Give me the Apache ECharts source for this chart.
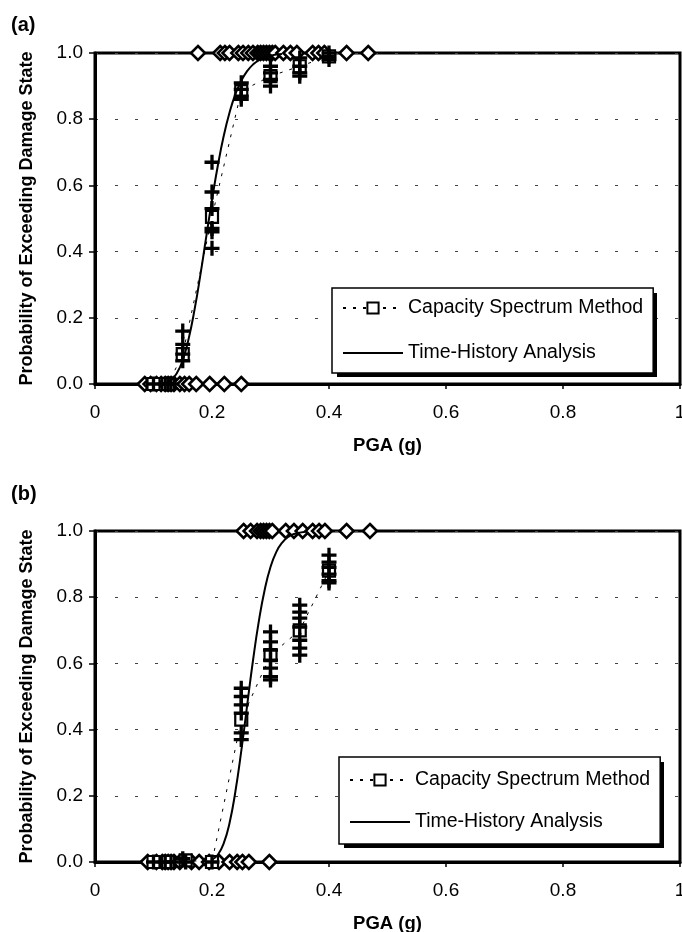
<!DOCTYPE html>
<html>
<head>
<meta charset="utf-8">
<script src="https://cdn.jsdelivr.net/npm/echarts@6/dist/echarts.min.js"></script>
<style>
  html, body { margin: 0; padding: 0; background: #fff; }
  #chart { width: 682px; height: 932px; }
</style>
</head>
<body>
<div id="chart"></div>
<script>
// ---- panel (a) ----
const csmPgaA = [0.1, 0.125, 0.15, 0.2, 0.25, 0.3, 0.35, 0.4];
const csmProbA = [0, 0, 0.09, 0.505, 0.885, 0.93, 0.96, 0.99];
const crossPgaA = [0.1, 0.12, 0.125, 0.13, 0.15, 0.15, 0.15, 0.15, 0.2, 0.2, 0.2, 0.2, 0.2, 0.2,
  0.25, 0.25, 0.25, 0.25, 0.3, 0.3, 0.3, 0.3, 0.35, 0.35, 0.35, 0.35, 0.4, 0.4, 0.4];
const crossProbA = [0, 0, 0, 0, 0.16, 0.12, 0.09, 0.07, 0.67, 0.58, 0.53, 0.47, 0.46, 0.41,
  0.91, 0.89, 0.87, 0.86, 0.96, 0.94, 0.92, 0.9, 0.985, 0.96, 0.94, 0.93, 1.0, 0.99, 0.98];
const hitPgaA = [0.176, 0.214, 0.222, 0.23, 0.245, 0.253, 0.262, 0.27, 0.278, 0.283, 0.288, 0.293,
  0.298, 0.303, 0.308, 0.322, 0.334, 0.345, 0.372, 0.382, 0.392, 0.43, 0.467];
const missPgaA = [0.085, 0.095, 0.105, 0.113, 0.12, 0.125, 0.13, 0.135, 0.145, 0.153, 0.161, 0.173,
  0.196, 0.221, 0.25];
const curvePgaA = [0.12, 0.13, 0.14, 0.15, 0.16, 0.17, 0.18, 0.19, 0.2, 0.21, 0.22, 0.23, 0.24,
  0.25, 0.26, 0.27, 0.28, 0.3, 0.32];
const curveProbA = [0.004, 0.012, 0.033, 0.072, 0.136, 0.223, 0.328, 0.443, 0.556, 0.66, 0.749,
  0.82, 0.876, 0.916, 0.945, 0.965, 0.978, 0.992, 0.997];

// ---- panel (b) ----
const csmPgaB = [0.1, 0.125, 0.155, 0.2, 0.25, 0.3, 0.35, 0.4];
const csmProbB = [0, 0, 0.005, 0, 0.43, 0.625, 0.7, 0.88];
const crossPgaB = [0.1, 0.12, 0.13, 0.15, 0.155, 0.2,
  0.25, 0.25, 0.25, 0.25, 0.25, 0.25,
  0.3, 0.3, 0.3, 0.3, 0.3, 0.3, 0.3,
  0.35, 0.35, 0.35, 0.35, 0.35, 0.35, 0.35,
  0.4, 0.4, 0.4, 0.4, 0.4, 0.4];
const crossProbB = [0, 0, 0, 0.01, 0, 0,
  0.525, 0.5, 0.475, 0.45, 0.39, 0.37,
  0.695, 0.665, 0.64, 0.61, 0.586, 0.56, 0.55,
  0.776, 0.755, 0.737, 0.71, 0.67, 0.646, 0.625,
  0.927, 0.906, 0.89, 0.87, 0.85, 0.843];
const hitPgaB = [0.254, 0.266, 0.277, 0.283, 0.288, 0.293, 0.298, 0.303, 0.326, 0.34, 0.355,
  0.372, 0.383, 0.393, 0.43, 0.47];
const missPgaB = [0.09, 0.105, 0.115, 0.12, 0.125, 0.13, 0.135, 0.145, 0.165, 0.178, 0.195,
  0.212, 0.23, 0.243, 0.252, 0.263, 0.298];
const curvePgaB = [0.2, 0.21, 0.22, 0.23, 0.24, 0.25, 0.26, 0.27, 0.28, 0.29, 0.3, 0.31, 0.32,
  0.33, 0.34, 0.36];
const curveProbB = [0.007, 0.022, 0.056, 0.118, 0.213, 0.335, 0.472, 0.608, 0.727, 0.822, 0.891,
  0.937, 0.965, 0.982, 0.991, 0.998];

const xTicks = ['0', '0.2', '0.4', '0.6', '0.8', '1'];
const yTicks = ['0.0', '0.2', '0.4', '0.6', '0.8', '1.0'];

const FONT = "'Liberation Sans', Arial, sans-serif";
const CROSS = 'path://M3.9,0H6.1V3.9H10V6.1H6.1V10H3.9V6.1H0V3.9H3.9Z';
const SOLID_ICON = 'path://M0,0H60V2H0Z';
const pair = (xs, ys) => xs.map((x, i) => [x, ys[i]]);

const chart = echarts.init(document.getElementById('chart'), null, { renderer: 'canvas' });

function xAxisFor(idx) {
  return {
    type: 'value', gridIndex: idx, min: 0, max: 1, interval: 0.2,
    name: 'PGA (g)', nameLocation: 'middle', nameGap: 52,
    nameTextStyle: { fontFamily: FONT, fontSize: 18.5, fontWeight: 'bold', color: '#000' },
    axisLine: { lineStyle: { color: '#000', width: 3 } },
    axisTick: { length: 5, lineStyle: { color: '#000', width: 1.5 } },
    axisLabel: {
      margin: 19, fontFamily: FONT, fontSize: 19, color: '#000',
      formatter: v => xTicks[Math.round(v / 0.2)]
    },
    splitLine: { show: false }
  };
}

function yAxisFor(idx) {
  return {
    type: 'value', gridIndex: idx, min: 0, max: 1, interval: 0.2,
    name: 'Probability of Exceeding Damage State', nameLocation: 'middle', nameGap: 59,
    nameTextStyle: { fontFamily: FONT, fontSize: 18, fontWeight: 'bold', color: '#000' },
    axisLine: { lineStyle: { color: '#000', width: 3 } },
    axisTick: { length: 6, lineStyle: { color: '#000', width: 1.5 } },
    axisLabel: {
      margin: 12, fontFamily: FONT, fontSize: 19, color: '#000',
      formatter: v => yTicks[Math.round(v / 0.2)]
    },
    splitLine: { lineStyle: { color: '#444', width: 1, type: [3, 17] } }
  };
}

function seriesFor(idx, csmX, csmY, crossX, crossY, hitX, missX, curveX, curveY) {
  return [
    {
      name: 'Observed', type: 'scatter', xAxisIndex: idx, yAxisIndex: idx, clip: false, z: 3,
      symbol: 'diamond', symbolSize: [14, 14],
      itemStyle: { color: '#fff', borderColor: '#000', borderWidth: 2.6, opacity: 1 },
      data: hitX.map(x => [x, 1]).concat(missX.map(x => [x, 0]))
    },
    {
      name: 'Capacity Spectrum Method', type: 'line', xAxisIndex: idx, yAxisIndex: idx, clip: false, z: 4,
      symbol: 'rect', symbolSize: 12, showAllSymbol: true,
      lineStyle: { color: '#000', width: 1, type: [3, 7] },
      itemStyle: { color: '#fff', borderColor: '#000', borderWidth: 2.2, opacity: 1 },
      data: pair(csmX, csmY)
    },
    {
      name: 'Records', type: 'scatter', xAxisIndex: idx, yAxisIndex: idx, clip: false, z: 5,
      symbol: CROSS, symbolSize: 15,
      itemStyle: { color: '#000', opacity: 1 },
      data: pair(crossX, crossY)
    },
    {
      name: 'Time-History Analysis', type: 'line', xAxisIndex: idx, yAxisIndex: idx, clip: false, z: 6,
      symbol: 'none', smooth: true,
      lineStyle: { color: '#000', width: 2 },
      itemStyle: { color: '#000' },
      data: pair(curveX, curveY)
    }
  ];
}

function legendFor(left, top, gap, padTop, padBottom) {
  return {
    orient: 'vertical', left: left, top: top, z: 10,
    data: [
      { name: 'Capacity Spectrum Method' },
      { name: 'Time-History Analysis', icon: SOLID_ICON, itemStyle: { color: '#000' } }
    ],
    itemWidth: 60, itemHeight: 14, itemGap: gap,
    padding: [padTop, 10, padBottom, 10],
    backgroundColor: '#fff', borderColor: '#000', borderWidth: 1.5, borderRadius: 0,
    selectedMode: false,
    textStyle: { fontFamily: FONT, fontSize: 19.5, color: '#000' }
  };
}

// drop shadows behind the two legend boxes
function legendShadow(x, y, w, h) {
  return { type: 'rect', left: x, top: y, z: 9, shape: { width: w, height: h }, style: { fill: '#000' } };
}

const option = {
  backgroundColor: '#fff',
  animation: false,
  title: [
    { text: '(a)', left: 6, top: 10, textStyle: { fontFamily: FONT, fontSize: 20, fontWeight: 'bold', color: '#000' } },
    { text: '(b)', left: 6, top: 479, textStyle: { fontFamily: FONT, fontSize: 20, fontWeight: 'bold', color: '#000' } }
  ],
  grid: [
    { left: 95, top: 53, width: 585, height: 331, outerBoundsMode: 'none', show: true, borderColor: '#000', borderWidth: 3 },
    { left: 95, top: 531, width: 585, height: 331, outerBoundsMode: 'none', show: true, borderColor: '#000', borderWidth: 3 }
  ],
  legend: [
    legendFor(332, 288, 25, 10, 10),
    legendFor(339, 757, 22, 13, 12)
  ],
  graphic: [
    legendShadow(337, 293, 320, 84),
    legendShadow(344, 762, 320, 86)
  ],
  xAxis: [xAxisFor(0), xAxisFor(1)],
  yAxis: [yAxisFor(0), yAxisFor(1)],
  series: [].concat(
    seriesFor(0, csmPgaA, csmProbA, crossPgaA, crossProbA, hitPgaA, missPgaA, curvePgaA, curveProbA),
    seriesFor(1, csmPgaB, csmProbB, crossPgaB, crossProbB, hitPgaB, missPgaB, curvePgaB, curveProbB)
  )
};

chart.setOption(option);
window.addEventListener('resize', chart.resize);
</script>
</body>
</html>
